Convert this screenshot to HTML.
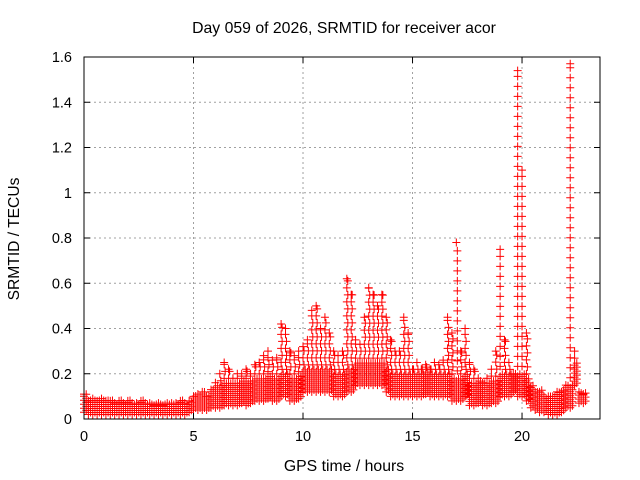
<!DOCTYPE html>
<html><head><meta charset="utf-8"><style>
body{margin:0;background:#fff}
svg{display:block;font-family:"Liberation Sans",sans-serif}
</style></head><body>
<svg id="chart" width="640" height="480" viewBox="0 0 640 480">
<rect width="640" height="480" fill="#fff"/>
<text x="344" y="33" font-size="15.8" text-anchor="middle">Day 059 of 2026, SRMTID for receiver acor</text>
<text transform="translate(19,239) rotate(-90)" font-size="15.6" text-anchor="middle">SRMTID / TECUs</text>
<text x="344" y="471" font-size="15.8" text-anchor="middle">GPS time / hours</text>
<g id="grid"></g>
<g id="marks"></g>
<rect x="84" y="57" width="516" height="362" fill="none" stroke="#000" stroke-width="1"/>
<g id="ticks"></g>
</svg>
<script>
const xTicks = [0, 5, 10, 15, 20];
const yTicks = [0, 0.2, 0.4, 0.6, 0.8, 1, 1.2, 1.4, 1.6];
const yTickLabels = ["0", "0.2", "0.4", "0.6", "0.8", "1", "1.2", "1.4", "1.6"];
const hours = [0,0.2,0.4,0.6,0.8,1,1.2,1.4,1.6,1.8,2,2.2,2.4,2.6,2.8,3,3.2,3.4,3.6,3.8,4,4.2,4.4,4.6,4.8,5,5.2,5.4,5.6,5.8,6,6.2,6.4,6.6,6.8,7,7.2,7.4,7.6,7.8,8,8.2,8.4,8.6,8.8,9,9.2,9.4,9.6,9.8,10,10.2,10.4,10.6,10.8,11,11.2,11.4,11.6,11.8,12,12.2,12.4,12.6,12.8,13,13.2,13.4,13.6,13.8,14,14.2,14.4,14.6,14.8,15,15.2,15.4,15.6,15.8,16,16.2,16.4,16.6,16.8,17,17.2,17.4,17.6,17.8,18,18.2,18.4,18.6,18.8,19,19.2,19.4,19.6,19.8,20,20.2,20.4,20.6,20.8,21,21.2,21.4,21.6,21.8,22,22.2,22.4,22.6,22.8];
const lowVals = [0.03,0.02,0.02,0.02,0.02,0.02,0.02,0.02,0.02,0.02,0.02,0.02,0.02,0.02,0.02,0.02,0.02,0.02,0.02,0.02,0.02,0.02,0.02,0.02,0.03,0.04,0.04,0.04,0.04,0.05,0.05,0.05,0.06,0.06,0.06,0.06,0.07,0.06,0.07,0.08,0.08,0.08,0.09,0.08,0.08,0.1,0.1,0.08,0.08,0.09,0.12,0.12,0.12,0.12,0.12,0.12,0.12,0.1,0.1,0.1,0.12,0.12,0.15,0.15,0.15,0.15,0.15,0.15,0.15,0.12,0.1,0.1,0.1,0.1,0.1,0.1,0.1,0.1,0.11,0.1,0.1,0.1,0.1,0.1,0.08,0.08,0.08,0.1,0.06,0.06,0.07,0.06,0.06,0.07,0.07,0.1,0.1,0.1,0.12,0.1,0.1,0.08,0.05,0.04,0.03,0.03,0.02,0.02,0.02,0.03,0.05,0.05,0.15,0.07,0.07];
const highVals = [0.11,0.08,0.09,0.08,0.09,0.08,0.08,0.07,0.08,0.07,0.08,0.07,0.07,0.08,0.07,0.07,0.06,0.07,0.06,0.07,0.07,0.07,0.08,0.07,0.08,0.1,0.11,0.12,0.1,0.13,0.16,0.2,0.25,0.22,0.18,0.2,0.2,0.22,0.2,0.24,0.25,0.28,0.3,0.26,0.27,0.42,0.4,0.3,0.28,0.3,0.32,0.35,0.48,0.5,0.4,0.45,0.38,0.3,0.28,0.3,0.62,0.55,0.35,0.33,0.45,0.58,0.55,0.5,0.55,0.45,0.35,0.3,0.3,0.45,0.38,0.22,0.25,0.22,0.24,0.22,0.25,0.24,0.26,0.45,0.38,0.78,0.3,0.4,0.25,0.22,0.18,0.16,0.18,0.22,0.3,0.75,0.35,0.25,0.2,1.54,1.1,0.38,0.14,0.12,0.12,0.1,0.1,0.1,0.12,0.12,0.15,1.57,0.3,0.12,0.11];

const X0 = 84, X1 = 600, Y0 = 419, Y1 = 57, XMAX = 23.56, YMAX = 1.6;
const xs = h => X0 + h / XMAX * (X1 - X0);
const ys = v => Y0 - v / YMAX * (Y0 - Y1);
const NS = "http://www.w3.org/2000/svg";
const grid = document.getElementById("grid");
const ticks = document.getElementById("ticks");
const marks = document.getElementById("marks");
function mk(tag, attrs, parent) {
  const e = document.createElementNS(NS, tag);
  for (const k in attrs) e.setAttribute(k, attrs[k]);
  parent.appendChild(e);
  return e;
}
xTicks.forEach(t => {
  const x = xs(t);
  if (t > 0) {
    const g = mk("line", {x1: x, x2: x, y1: Y0, y2: Y1, stroke: "#a0a0a0", "stroke-dasharray": "2,3"}, grid);
    
    
  }
  mk("line", {x1: x, x2: x, y1: Y0, y2: Y0 - 6, stroke: "#000"}, ticks);
  mk("line", {x1: x, x2: x, y1: Y1, y2: Y1 + 6, stroke: "#000"}, ticks);
  const l = mk("text", {x: x, y: Y0 + 22, "font-size": 14.5, "text-anchor": "middle"}, ticks);
  l.textContent = String(t);
  
  
});
yTicks.forEach((t, i) => {
  const y = ys(t);
  if (t > 0 && t < YMAX) {
    const g = mk("line", {x1: X0, x2: X1, y1: y, y2: y, stroke: "#a0a0a0", "stroke-dasharray": "2,3"}, grid);
    
    
  }
  mk("line", {x1: X0, x2: X0 + 6, y1: y, y2: y, stroke: "#000"}, ticks);
  mk("line", {x1: X1, x2: X1 - 6, y1: y, y2: y, stroke: "#000"}, ticks);
  const l = mk("text", {x: X0 - 12, y: y + 5, "font-size": 14.5, "text-anchor": "end"}, ticks);
  l.textContent = yTickLabels[i];
  
  
});
let d = "";
function plus(x, y) {
  d += "M" + (x - 4) + " " + y + "h8M" + x + " " + (y - 4) + "v8";
}
hours.forEach((h, i) => {
  const lo = ys(lowVals[i]), hi = ys(highVals[i]);
  const bandTop = Math.max(hi, lo - 20);
  const xa = xs(h), xb = xs(h + 0.1);
  for (let y = lo; y >= bandTop; y -= 4) {
    plus(xa, y);
    plus(xb, y - 2);
  }
  const step = (bandTop - hi) > 100 ? 10 : 7;
  for (let y = bandTop - step; y > hi; y -= step) {
    plus(xa + ((Math.round(y) % 2) ? 1 : 0), y);
  }
  plus(xa, hi);
});
const p = mk("path", {d: d, stroke: "#ff0000", "stroke-width": 1, fill: "none"}, marks);


</script>
</body></html>
